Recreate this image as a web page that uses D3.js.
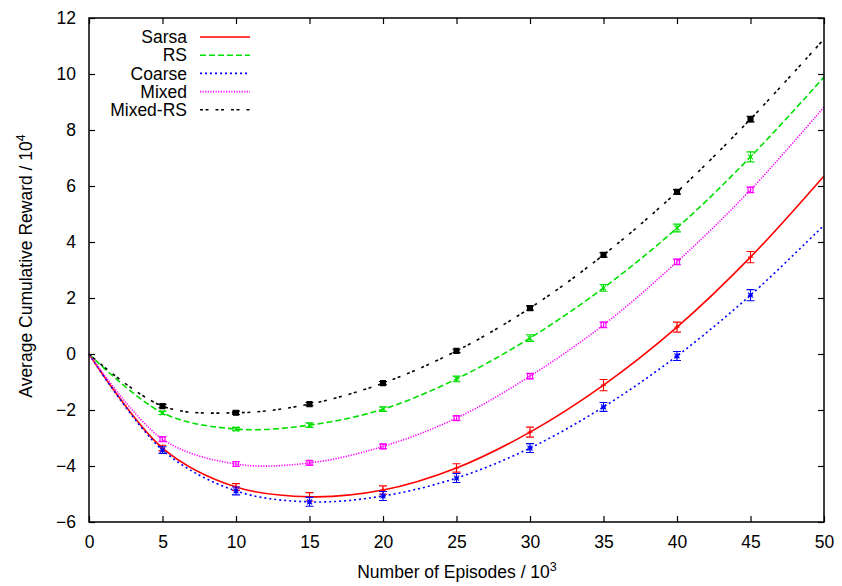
<!DOCTYPE html>
<meta charset="utf-8">
<style>
 body { margin: 0; background: white; }
 text { font-family: "Liberation Sans", Arial, sans-serif; fill: #000; }
 .frame { fill: none; stroke: #000; stroke-width: 1.5px; }
 .curve { fill: none; stroke-width: 1.6px; }
</style>
<svg id="chart"></svg>
<script src="https://cdn.jsdelivr.net/npm/d3@7"></script>
<script>

 var episodes = [0, 5, 10, 15, 20, 25, 30, 35, 40, 45, 50];

 var sarsa    = [0, -3.36, -4.75, -5.10, -4.86, -4.07, -2.79, -1.11, 0.96, 3.46, 6.36];
 var rs       = [0, -2.10, -2.68, -2.54, -1.97, -0.89, 0.57, 2.36, 4.50, 7.04, 9.89];
 var coarse   = [0, -3.43, -4.89, -5.28, -5.07, -4.43, -3.36, -1.89, -0.07, 2.10, 4.60];
 var mixed    = [0, -3.04, -3.93, -3.89, -3.30, -2.29, -0.79, 1.04, 3.29, 5.86, 8.82];
 var mixedRs  = [0, -1.86, -2.10, -1.79, -1.04, 0.11, 1.64, 3.54, 5.79, 8.39, 11.25];

 // half-width of the error bars, one per marked episode
 var sarsaErr   = [0, 0.10, 0.12, 0.15, 0.15, 0.15, 0.18, 0.20, 0.18, 0.20, 0];
 var rsErr      = [0, 0.06, 0.06, 0.08, 0.08, 0.10, 0.12, 0.12, 0.14, 0.18, 0];
 var coarseErr  = [0, 0.12, 0.14, 0.16, 0.16, 0.16, 0.16, 0.16, 0.16, 0.20, 0];
 var mixedErr   = [0, 0.08, 0.08, 0.08, 0.08, 0.08, 0.10, 0.10, 0.10, 0.10, 0];
 var mixedRsErr = [0, 0.06, 0.06, 0.06, 0.06, 0.06, 0.08, 0.08, 0.08, 0.10, 0];

 var xTicks = [0, 5, 10, 15, 20, 25, 30, 35, 40, 45, 50];
 var yTicks = [-6, -4, -2, 0, 2, 4, 6, 8, 10, 12];

 var series = [
     {name: "Sarsa",    values: sarsa,   err: sarsaErr,   color: "#ff0000", dash: null,        marker: "plus"},
     {name: "RS",       values: rs,      err: rsErr,      color: "#00e000", dash: "6,3",       marker: "cross"},
     {name: "Coarse",   values: coarse,  err: coarseErr,  color: "#0000ff", dash: "2,3",       marker: "star"},
     {name: "Mixed",    values: mixed,   err: mixedErr,   color: "#ff00ff", dash: "1.2,1.4",   marker: "box"},
     {name: "Mixed-RS", values: mixedRs, err: mixedRsErr, color: "#000000", dash: "3,2.5,3,7", marker: "fbox"}
 ];

 var W = 842, H = 586;
 var pLeft = 89, pRight = 824, pTop = 18, pBottom = 522;
 var fs = 17.5;

 var svg = d3.select("#chart").attr("width", W).attr("height", H);

 var x = d3.scaleLinear().domain([0, 50]).range([pLeft, pRight]);
 var y = d3.scaleLinear().domain([-6, 12]).range([pBottom, pTop]);

 // axes, ticks inward and mirrored like gnuplot
 var tl = 6;
 svg.append("g").attr("transform", "translate(0," + pBottom + ")")
    .call(d3.axisBottom(x).tickValues(xTicks).tickSize(-tl).tickPadding(14))
    .call(function(g) { g.select(".domain").remove(); });
 svg.append("g").attr("transform", "translate(0," + pTop + ")")
    .call(d3.axisTop(x).tickValues(xTicks).tickSize(-tl).tickFormat(""))
    .call(function(g) { g.select(".domain").remove(); });
 svg.append("g").attr("transform", "translate(" + pLeft + ",0)")
    .call(d3.axisLeft(y).tickValues(yTicks).tickSize(-tl).tickPadding(13))
    .call(function(g) { g.select(".domain").remove(); });
 svg.append("g").attr("transform", "translate(" + pRight + ",0)")
    .call(d3.axisRight(y).tickValues(yTicks).tickSize(-tl).tickFormat(""))
    .call(function(g) { g.select(".domain").remove(); });
 svg.selectAll(".tick line").attr("stroke", "#000").attr("stroke-width", 1.2);
 svg.selectAll(".tick text").attr("font-family", "Liberation Sans, Arial, sans-serif").attr("font-size", fs);

 var line = d3.line()
     .x(function(d, i) { return x(episodes[i]); })
     .y(function(d) { return y(d); })
     .curve(d3.curveCatmullRom.alpha(0.5));

 var plot = svg.append("g");

 series.forEach(function(s) {
     var g = plot.append("g");
     g.append("path").attr("class", "curve")
      .attr("d", line(s.values))
      .attr("stroke", s.color)
      .attr("stroke-dasharray", s.dash);

     // error bars at the marked episodes
     var pts = episodes.map(function(e, i) { return {x: e, v: s.values[i], e: s.err[i]}; })
                       .filter(function(d) { return d.x > 0 && d.x < 50; });
     var eb = g.selectAll(".eb").data(pts).enter().append("g")
               .attr("stroke", s.color).attr("stroke-width", 1.1).attr("fill", "none");
     eb.append("path").attr("d", function(d) {
         var cx = x(d.x), y0 = y(d.v - d.e), y1 = y(d.v + d.e);
         return "M" + cx + "," + y0 + "V" + y1 +
                "M" + (cx - 4) + "," + y0 + "h8" +
                "M" + (cx - 4) + "," + y1 + "h8";
     });
     eb.append("path").attr("d", function(d) {
         var cx = x(d.x), cy = y(d.v), r = 2.5;
         if (s.marker == "plus") return "M" + (cx - r) + "," + cy + "h" + 2 * r + "M" + cx + "," + (cy - r) + "v" + 2 * r;
         if (s.marker == "cross") return "M" + (cx - r) + "," + (cy - r) + "l" + 2 * r + "," + 2 * r + "M" + (cx - r) + "," + (cy + r) + "l" + 2 * r + "," + (-2 * r);
         if (s.marker == "star") return "M" + (cx - r) + "," + cy + "h" + 2 * r + "M" + cx + "," + (cy - r) + "v" + 2 * r +
                                         "M" + (cx - r) + "," + (cy - r) + "l" + 2 * r + "," + 2 * r + "M" + (cx - r) + "," + (cy + r) + "l" + 2 * r + "," + (-2 * r);
         return "M" + (cx - r) + "," + (cy - r) + "h" + 2 * r + "v" + 2 * r + "h" + (-2 * r) + "Z";
     }).attr("fill", s.marker == "fbox" ? s.color : "none");
 });

 // frame
 svg.append("rect").attr("class", "frame")
    .attr("x", pLeft).attr("y", pTop).attr("width", pRight - pLeft).attr("height", pBottom - pTop);

 // legend
 var leg = svg.append("g");
 series.forEach(function(s, i) {
     var ly = 37 + i * 18.2;
     leg.append("text").attr("x", 187).attr("y", ly).attr("dy", "0.35em")
        .attr("text-anchor", "end").attr("font-size", fs).text(s.name);
     leg.append("line").attr("x1", 200).attr("x2", 250).attr("y1", ly).attr("y2", ly)
        .attr("stroke", s.color).attr("stroke-width", 1.6)
        .attr("stroke-dasharray", s.dash);
 });

 // axis titles
 var xt = svg.append("text").attr("x", 457).attr("y", 578).attr("text-anchor", "middle").attr("font-size", fs);
 xt.append("tspan").text("Number of Episodes / 10");
 xt.append("tspan").attr("dy", -7).attr("font-size", 12.5).text("3");

 var yt = svg.append("text").attr("transform", "translate(32,266) rotate(-90)")
             .attr("text-anchor", "middle").attr("font-size", fs);
 yt.append("tspan").text("Average Cumulative Reward / 10");
 yt.append("tspan").attr("dy", -7).attr("font-size", 12.5).text("4");

</script>
